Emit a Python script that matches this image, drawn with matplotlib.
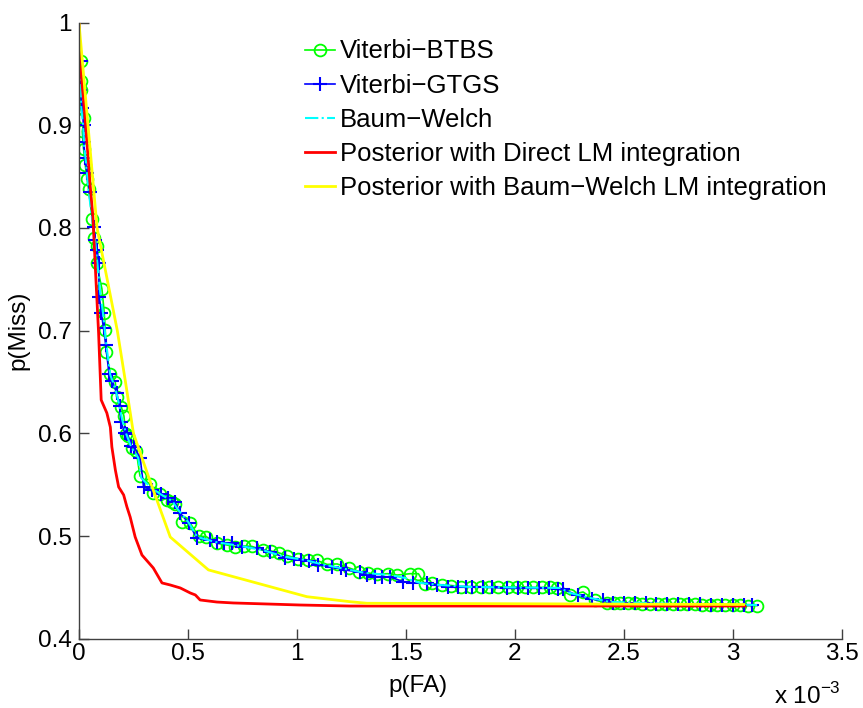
import matplotlib
matplotlib.use("Agg")
import matplotlib.pyplot as plt
from matplotlib.ticker import FixedLocator, FixedFormatter

plt.rcParams['font.family'] = ['Liberation Sans', 'DejaVu Sans']
plt.rcParams['mathtext.fontset'] = 'custom'
plt.rcParams['mathtext.rm'] = 'Liberation Sans'

# p(FA) values in units of 1e-3
btbs_x = [0.0092, 0.0092, 0.0083, 0.006, 0.0243, 0.0151, 0.0211, 0.0289, 0.0367, 0.044,
          0.061, 0.0688, 0.0807, 0.0807, 0.1055, 0.116, 0.1206, 0.1252, 0.1436, 0.1665,
          0.1725, 0.194, 0.2064, 0.2147, 0.2261, 0.2431, 0.2628, 0.2798, 0.3238, 0.3394,
          0.3729, 0.4037, 0.428, 0.4417, 0.4725, 0.5105, 0.5486, 0.5839, 0.633, 0.6789,
          0.717, 0.7583, 0.795, 0.8454, 0.8821, 0.9188, 0.9555, 1.0037, 1.0495, 1.0931,
          1.139, 1.1848, 1.2399, 1.2857, 1.3247, 1.3683, 1.4165, 1.46, 1.5197, 1.5577,
          1.5862, 1.6206, 1.665, 1.7077, 1.7536, 1.7995, 1.8454, 1.882, 1.9247, 1.9706,
          2.0091, 2.0472, 2.0853, 2.1252, 2.1619, 2.194, 2.2536, 2.3133, 2.3683, 2.4234,
          2.455, 2.483, 2.52, 2.5518, 2.585, 2.6206, 2.655, 2.6894, 2.725, 2.7582,
          2.79, 2.827, 2.86, 2.8958, 2.93, 2.9646, 3.0, 3.0334, 3.07, 3.1114]
btbs_y = [0.963, 0.9435, 0.934, 0.917, 0.907, 0.894, 0.877, 0.8614, 0.8482, 0.838,
          0.8088, 0.7898, 0.7825, 0.7656, 0.7406, 0.7172, 0.7007, 0.6795, 0.6578, 0.6503,
          0.6357, 0.626, 0.6169, 0.5994, 0.5974, 0.5855, 0.5828, 0.5585, 0.5507, 0.5416,
          0.5409, 0.5351, 0.5331, 0.5307, 0.514, 0.5124, 0.500, 0.4994, 0.4929, 0.4913,
          0.4896, 0.4903, 0.4898, 0.4859, 0.4854, 0.4835, 0.481, 0.4781, 0.4767, 0.4762,
          0.4723, 0.4728, 0.4689, 0.4653, 0.464, 0.463, 0.4633, 0.462, 0.4633, 0.4633,
          0.4533, 0.4538, 0.4523, 0.4518, 0.4507, 0.4507, 0.4507, 0.4504, 0.4504, 0.4504,
          0.4504, 0.4504, 0.4499, 0.4499, 0.4499, 0.4494, 0.4426, 0.4455, 0.4377, 0.4345,
          0.4350, 0.4348, 0.4345, 0.4343, 0.4340, 0.4338, 0.4338, 0.4338, 0.4335, 0.4333,
          0.4333, 0.4333, 0.4330, 0.4328, 0.4328, 0.4328, 0.4326, 0.4324, 0.4323, 0.4322]

gtgs_x = [0.0092, 0.006, 0.0138, 0.0211, 0.0211, 0.0289, 0.0367, 0.0486, 0.067, 0.0748,
          0.0839, 0.0899, 0.0931, 0.1032, 0.1128, 0.1229, 0.1381, 0.1527, 0.1734, 0.1862,
          0.1927, 0.2101, 0.2216, 0.239, 0.2537, 0.2812, 0.2963, 0.3349, 0.3743, 0.4087,
          0.4417, 0.4646, 0.5027, 0.5413, 0.6023, 0.633, 0.6633, 0.7018, 0.7477, 0.8179,
          0.8775, 0.9463, 0.9876, 1.0197, 1.0564, 1.0954, 1.1606, 1.2032, 1.2261, 1.2904,
          1.3211, 1.3592, 1.3913, 1.428, 1.489, 1.5312, 1.5963, 1.6422, 1.6917, 1.7413,
          1.7766, 1.8027, 1.8559, 1.8935, 1.9633, 2.0128, 2.0624, 2.1115, 2.1573, 2.2,
          2.2229, 2.2881, 2.3523, 2.4064, 2.45, 2.5, 2.55, 2.6, 2.65, 2.7,
          2.75, 2.8, 2.85, 2.9, 2.95, 3.0, 3.05, 3.087]
gtgs_y = [0.963, 0.9345, 0.9166, 0.9004, 0.8841, 0.8679, 0.8533, 0.8354, 0.8013, 0.7883,
          0.7786, 0.7656, 0.7331, 0.7169, 0.7023, 0.686, 0.6578, 0.651, 0.639, 0.6267,
          0.6114, 0.6004, 0.5997, 0.5879, 0.587, 0.5757, 0.548, 0.5448, 0.5405, 0.5368,
          0.5327, 0.5221, 0.513, 0.4978, 0.4961, 0.4945, 0.4935, 0.4929, 0.4896, 0.488,
          0.4847, 0.4788, 0.4776, 0.4769, 0.4757, 0.4718, 0.4703, 0.4686, 0.4669, 0.4645,
          0.462, 0.4604, 0.4604, 0.4601, 0.4555, 0.4543, 0.454, 0.4523, 0.4507, 0.4507,
          0.4507, 0.4504, 0.4501, 0.4499, 0.4491, 0.4491, 0.4491, 0.4491, 0.4491, 0.4481,
          0.4481, 0.4421, 0.4387, 0.4372, 0.4352, 0.4348, 0.4345, 0.4343, 0.4340, 0.4338,
          0.4336, 0.4335, 0.4333, 0.4331, 0.4330, 0.4329, 0.4326, 0.4324]

bw_x = [0.0083, 0.0083, 0.0106, 0.0197, 0.0243, 0.0335, 0.0427, 0.061, 0.0748, 0.0839,
        0.0977, 0.1115, 0.1206, 0.1298, 0.1436, 0.1665, 0.1849, 0.1986, 0.217, 0.2399,
        0.272, 0.2858, 0.3271, 0.3729, 0.428, 0.4555, 0.5014, 0.5426, 0.6252, 0.74,
        0.8408, 0.9463, 1.0381, 1.1069, 1.2215, 1.3133, 1.428, 1.4968, 1.5656, 1.6573,
        1.7949, 2.2078, 2.2536, 2.3454, 2.4371, 2.7582, 3.1114]
bw_y = [0.9617, 0.9345, 0.917, 0.8984, 0.8789, 0.8614, 0.839, 0.8078, 0.7864, 0.767,
        0.7367, 0.7153, 0.6958, 0.6793, 0.6569, 0.6442, 0.6276, 0.613, 0.5994, 0.5867,
        0.576, 0.5565, 0.5478, 0.5409, 0.5341, 0.5254, 0.5137, 0.4991, 0.4942, 0.4903,
        0.4864, 0.4796, 0.4767, 0.4728, 0.4679, 0.464, 0.462, 0.4591, 0.4543, 0.4523,
        0.4504, 0.4494, 0.4445, 0.4397, 0.4358, 0.4338, 0.4328]

direct_x = [0.0, 0.006, 0.029, 0.052, 0.064, 0.075, 0.090, 0.102, 0.128, 0.144,
            0.151, 0.167, 0.182, 0.205, 0.220, 0.235, 0.258, 0.289, 0.341, 0.381,
            0.419, 0.465, 0.511, 0.534, 0.556, 0.633, 0.708, 0.862, 1.015, 1.245,
            2.483, 3.056]
direct_y = [1.0, 0.9607, 0.905, 0.840, 0.811, 0.762, 0.698, 0.6325, 0.6198, 0.606,
            0.5867, 0.5643, 0.5478, 0.540, 0.5284, 0.5185, 0.499, 0.4815, 0.4689, 0.4543,
            0.4523, 0.4494, 0.4445, 0.4426, 0.4377, 0.4357, 0.4348, 0.4338, 0.4328, 0.4318,
            0.4318, 0.4318]

bwlm_x = [0.0, 0.083, 0.176, 0.212, 0.250, 0.327, 0.419, 0.594, 1.046, 1.245, 1.321, 3.05]
bwlm_y = [1.0, 0.8, 0.7, 0.652, 0.6, 0.553, 0.499, 0.467, 0.4409, 0.436, 0.4345, 0.4333]

labels = ["Viterbi\u2212BTBS", "Viterbi\u2212GTGS", "Baum\u2212Welch",
          "Posterior with Direct LM integration",
          "Posterior with Baum\u2212Welch LM integration"]

xticks = [0, 0.5, 1, 1.5, 2, 2.5, 3, 3.5]
xticklabels = ["0", "0.5", "1", "1.5", "2", "2.5", "3", "3.5"]
yticks = [0.4, 0.5, 0.6, 0.7, 0.8, 0.9, 1.0]
yticklabels = ["0.4", "0.5", "0.6", "0.7", "0.8", "0.9", "1"]

FS = 17.5
LFS = 18.5

fig = plt.figure(figsize=(8.63, 7.08), dpi=100)
ax = fig.add_axes([0.0915, 0.0979, 0.8838, 0.8701])

ax.plot(btbs_x, btbs_y, color='#00ff00', lw=1.2, marker='o', ms=8.5,
        mfc='none', mec='#00ff00', mew=1.3, label=labels[0])
ax.plot(gtgs_x, gtgs_y, color='#0000ff', lw=1.2, marker='+', ms=10,
        mew=1.5, label=labels[1])
ax.plot(bw_x, bw_y, color='#00ffff', lw=1.5, ls='-.', label=labels[2])
ax.plot(direct_x, direct_y, color='#ff0000', lw=2, label=labels[3])
ax.plot(bwlm_x, bwlm_y, color='#ffff00', lw=2, label=labels[4])

ax.set_xlim(0, 3.5)
ax.set_ylim(0.4, 1.0)
ax.xaxis.set_major_locator(FixedLocator(xticks))
ax.xaxis.set_major_formatter(FixedFormatter(xticklabels))
ax.yaxis.set_major_locator(FixedLocator(yticks))
ax.yaxis.set_major_formatter(FixedFormatter(yticklabels))
ax.tick_params(direction='in', length=7, width=1, colors='#404040',
               labelcolor='black', labelsize=FS)
ax.tick_params(axis='x', pad=3)
ax.tick_params(axis='y', pad=5)
for s in ['top', 'right']:
    ax.spines[s].set_visible(False)
for s in ['left', 'bottom']:
    ax.spines[s].set_color('#404040')
    ax.spines[s].set_linewidth(1)

fig.text(0.484, 1 - 686 / 708, "p(FA)", ha='center', va='center', fontsize=FS)
fig.text(0.021, 1 - 330 / 708, "p(Miss)", ha='center', va='center',
         rotation=90, fontsize=FS)
fig.text(774 / 863, 1 - 704 / 708, "x 10$^{\\mathregular{\u22123}}$",
         ha='left', va='baseline', fontsize=FS)

leg = ax.legend(loc='upper left', bbox_to_anchor=(305 / 863, 1 - 39.5 / 708),
                bbox_transform=fig.transFigure, frameon=False, fontsize=LFS,
                handlelength=1.15, handletextpad=0.2, labelspacing=0.39,
                borderpad=0, borderaxespad=0)

fig.savefig("out.png", dpi=100)
